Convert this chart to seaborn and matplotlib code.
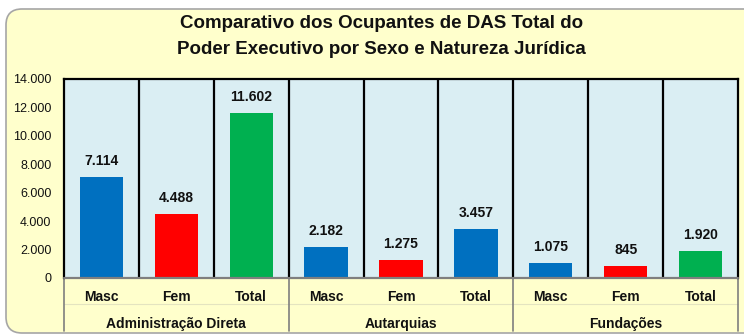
import matplotlib
matplotlib.use("Agg")
import matplotlib.pyplot as plt
from matplotlib.patches import FancyBboxPatch
from matplotlib.transforms import IdentityTransform, blended_transform_factory
import seaborn as sns
import pandas as pd

# Data
groups = ["Administração Direta", "Autarquias", "Fundações"]
sexes = ["Masc", "Fem", "Total"]
adm_direta = [7114, 4488, 11602]
autarquias = [2182, 1275, 3457]
fundacoes = [1075, 845, 1920]
bar_colors = ["#0070C0", "#FF0000", "#00B050",
              "#0070C0", "#FF0000", "#0070C0",
              "#0070C0", "#FF0000", "#00B050"]
y_ticks = [0, 2000, 4000, 6000, 8000, 10000, 12000, 14000]

values = adm_direta + autarquias + fundacoes
keys = [f"{g}|{s}" for g in groups for s in sexes]
df = pd.DataFrame({"key": keys, "value": values})

sns.set_theme(style="white")
plt.rcParams["font.family"] = ["Liberation Sans", "DejaVu Sans"]

W, H = 744, 336
fig = plt.figure(figsize=(W / 100, H / 100), dpi=100)
fig.patch.set_facecolor("white")

# Rounded chart frame
frame = FancyBboxPatch((6, 3), 800, 324, boxstyle="round,pad=0,rounding_size=16",
                       transform=IdentityTransform(), facecolor="#FFFFCC",
                       edgecolor="#A6A6A6", linewidth=1.2, zorder=-10)
fig.patches.append(frame)

fig.text(0.513, 1 - 23 / H, "Comparativo dos Ocupantes de DAS Total do",
         ha="center", va="center", fontsize=13.5, fontweight="bold", color="#111111")
fig.text(0.513, 1 - 50 / H, "Poder Executivo por Sexo e Natureza Jurídica",
         ha="center", va="center", fontsize=13.5, fontweight="bold", color="#111111")

left, right, top, bottom = 64, 738, 79, 278
ax = fig.add_axes([left / W, 1 - bottom / H, (right - left) / W, (bottom - top) / H])
ax.set_facecolor("#DAEEF3")

sns.barplot(data=df, x="key", y="value", hue="key", palette=bar_colors,
            width=0.58, legend=False, ax=ax, saturation=1, edgecolor="none")

ax.set_xlim(-0.5, 8.5)
ax.set_ylim(0, 14000)
ax.set_yticks(y_ticks)
ax.set_yticklabels([f"{v:,}".replace(",", ".") for v in y_ticks], fontsize=9, color="#111111")
ax.tick_params(axis="y", length=0, pad=9)
ax.set_xticks([])
ax.set_xlabel("")
ax.set_ylabel("")

for side in ["left", "top", "right"]:
    ax.spines[side].set_color("black")
    ax.spines[side].set_linewidth(1.6)
ax.spines["bottom"].set_visible(False)

# Category separators inside the plot
for xs in [0.5, 1.5, 2.5, 3.5, 4.5, 5.5, 6.5, 7.5]:
    ax.axvline(xs, color="black", linewidth=1.6, zorder=1)

# Value labels
for i, v in enumerate(values):
    ax.annotate(f"{v:,}".replace(",", "."), (i, v), xytext=(0, 6.5),
                textcoords="offset points", ha="center", va="bottom",
                fontsize=10, fontweight="bold", color="#111111")

# Two-level category axis
tr = blended_transform_factory(ax.transData, ax.transAxes)
ax.plot([-0.5, 8.5], [0, 0], transform=tr, color="#7F7F7F", linewidth=1.6,
        clip_on=False, zorder=5)
ax.plot([-0.5, 8.5], [-0.13, -0.13], transform=tr, color="#E4E4C0", linewidth=0.8,
        clip_on=False, zorder=1)
for xs in [-0.5, 2.5, 5.5, 8.5]:
    ax.plot([xs, xs], [0, -0.265], transform=tr, color="#7F7F7F", linewidth=1.2,
            clip_on=False)
for i, k in enumerate(keys):
    ax.text(i, -0.095, k.split("|")[1], transform=tr, ha="center", va="center",
            fontsize=10, fontweight="bold", color="#111111")
for j, g in enumerate(groups):
    ax.text(3 * j + 1, -0.232, g, transform=tr, ha="center", va="center",
            fontsize=10, fontweight="bold", color="#111111")

fig.savefig("out.png", dpi=100)
